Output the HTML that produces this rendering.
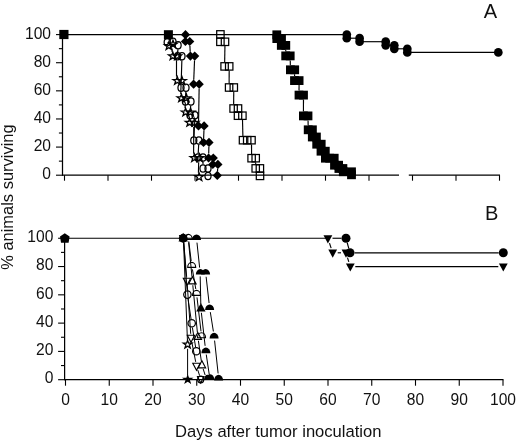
<!DOCTYPE html>
<html><head><meta charset="utf-8"><title>Survival</title>
<style>
html,body{margin:0;padding:0;background:#fff;}
svg{display:block;}
text{font-family:"Liberation Sans",Arial,sans-serif;fill:#111;}
.t{font-size:15.6px;}
.p{font-size:20px;}
.l{font-size:16.8px;}
</style></head><body>
<svg width="520" height="442" viewBox="0 0 520 442">
<rect width="520" height="442" fill="#fff"/>
<line x1="62.50" y1="34.10" x2="62.50" y2="175.70" stroke="#000" stroke-width="1.25"/>
<line x1="56.00" y1="175.20" x2="62.50" y2="175.20" stroke="#000" stroke-width="1.1"/>
<line x1="58.90" y1="161.14" x2="62.50" y2="161.14" stroke="#000" stroke-width="1.1"/>
<line x1="56.00" y1="147.08" x2="62.50" y2="147.08" stroke="#000" stroke-width="1.1"/>
<line x1="58.90" y1="133.02" x2="62.50" y2="133.02" stroke="#000" stroke-width="1.1"/>
<line x1="56.00" y1="118.96" x2="62.50" y2="118.96" stroke="#000" stroke-width="1.1"/>
<line x1="58.90" y1="104.90" x2="62.50" y2="104.90" stroke="#000" stroke-width="1.1"/>
<line x1="56.00" y1="90.84" x2="62.50" y2="90.84" stroke="#000" stroke-width="1.1"/>
<line x1="58.90" y1="76.78" x2="62.50" y2="76.78" stroke="#000" stroke-width="1.1"/>
<line x1="56.00" y1="62.72" x2="62.50" y2="62.72" stroke="#000" stroke-width="1.1"/>
<line x1="58.90" y1="48.66" x2="62.50" y2="48.66" stroke="#000" stroke-width="1.1"/>
<line x1="56.00" y1="34.60" x2="62.50" y2="34.60" stroke="#000" stroke-width="1.1"/>
<line x1="62.00" y1="175.20" x2="399.00" y2="175.20" stroke="#000" stroke-width="1.25"/>
<line x1="408.80" y1="175.20" x2="500.00" y2="175.20" stroke="#000" stroke-width="1.25"/>
<line x1="64.50" y1="175.20" x2="64.50" y2="180.70" stroke="#000" stroke-width="1.1"/>
<line x1="108.00" y1="175.20" x2="108.00" y2="180.70" stroke="#000" stroke-width="1.1"/>
<line x1="151.50" y1="175.20" x2="151.50" y2="180.70" stroke="#000" stroke-width="1.1"/>
<line x1="195.00" y1="175.20" x2="195.00" y2="180.70" stroke="#000" stroke-width="1.1"/>
<line x1="238.50" y1="175.20" x2="238.50" y2="180.70" stroke="#000" stroke-width="1.1"/>
<line x1="282.00" y1="175.20" x2="282.00" y2="180.70" stroke="#000" stroke-width="1.1"/>
<line x1="325.50" y1="175.20" x2="325.50" y2="180.70" stroke="#000" stroke-width="1.1"/>
<line x1="369.00" y1="175.20" x2="369.00" y2="180.70" stroke="#000" stroke-width="1.1"/>
<line x1="412.50" y1="175.20" x2="412.50" y2="180.70" stroke="#000" stroke-width="1.1"/>
<line x1="456.00" y1="175.20" x2="456.00" y2="180.70" stroke="#000" stroke-width="1.1"/>
<line x1="499.50" y1="175.20" x2="499.50" y2="180.70" stroke="#000" stroke-width="1.1"/>
<text x="51.00" y="179.20" text-anchor="end" class="t">0</text>
<text x="51.00" y="151.08" text-anchor="end" class="t">20</text>
<text x="51.00" y="122.96" text-anchor="end" class="t">40</text>
<text x="51.00" y="94.84" text-anchor="end" class="t">60</text>
<text x="51.00" y="66.72" text-anchor="end" class="t">80</text>
<text x="51.00" y="38.60" text-anchor="end" class="t">100</text>
<line x1="64.60" y1="237.75" x2="64.60" y2="380.20" stroke="#000" stroke-width="1.25"/>
<line x1="58.10" y1="379.70" x2="64.60" y2="379.70" stroke="#000" stroke-width="1.1"/>
<line x1="61.00" y1="365.56" x2="64.60" y2="365.56" stroke="#000" stroke-width="1.1"/>
<line x1="58.10" y1="351.41" x2="64.60" y2="351.41" stroke="#000" stroke-width="1.1"/>
<line x1="61.00" y1="337.26" x2="64.60" y2="337.26" stroke="#000" stroke-width="1.1"/>
<line x1="58.10" y1="323.12" x2="64.60" y2="323.12" stroke="#000" stroke-width="1.1"/>
<line x1="61.00" y1="308.98" x2="64.60" y2="308.98" stroke="#000" stroke-width="1.1"/>
<line x1="58.10" y1="294.83" x2="64.60" y2="294.83" stroke="#000" stroke-width="1.1"/>
<line x1="61.00" y1="280.69" x2="64.60" y2="280.69" stroke="#000" stroke-width="1.1"/>
<line x1="58.10" y1="266.54" x2="64.60" y2="266.54" stroke="#000" stroke-width="1.1"/>
<line x1="61.00" y1="252.39" x2="64.60" y2="252.39" stroke="#000" stroke-width="1.1"/>
<line x1="58.10" y1="238.25" x2="64.60" y2="238.25" stroke="#000" stroke-width="1.1"/>
<line x1="64.10" y1="379.70" x2="503.50" y2="379.70" stroke="#000" stroke-width="1.25"/>
<line x1="65.50" y1="379.70" x2="65.50" y2="385.70" stroke="#000" stroke-width="1.1"/>
<line x1="109.25" y1="379.70" x2="109.25" y2="385.70" stroke="#000" stroke-width="1.1"/>
<line x1="153.00" y1="379.70" x2="153.00" y2="385.70" stroke="#000" stroke-width="1.1"/>
<line x1="196.75" y1="379.70" x2="196.75" y2="385.70" stroke="#000" stroke-width="1.1"/>
<line x1="240.50" y1="379.70" x2="240.50" y2="385.70" stroke="#000" stroke-width="1.1"/>
<line x1="284.25" y1="379.70" x2="284.25" y2="385.70" stroke="#000" stroke-width="1.1"/>
<line x1="328.00" y1="379.70" x2="328.00" y2="385.70" stroke="#000" stroke-width="1.1"/>
<line x1="371.75" y1="379.70" x2="371.75" y2="385.70" stroke="#000" stroke-width="1.1"/>
<line x1="415.50" y1="379.70" x2="415.50" y2="385.70" stroke="#000" stroke-width="1.1"/>
<line x1="459.25" y1="379.70" x2="459.25" y2="385.70" stroke="#000" stroke-width="1.1"/>
<line x1="503.00" y1="379.70" x2="503.00" y2="385.70" stroke="#000" stroke-width="1.1"/>
<text x="53.40" y="383.40" text-anchor="end" class="t">0</text>
<text x="53.40" y="355.11" text-anchor="end" class="t">20</text>
<text x="53.40" y="326.82" text-anchor="end" class="t">40</text>
<text x="53.40" y="298.53" text-anchor="end" class="t">60</text>
<text x="53.40" y="270.24" text-anchor="end" class="t">80</text>
<text x="53.40" y="241.95" text-anchor="end" class="t">100</text>
<text x="65.50" y="405.00" text-anchor="middle" class="t">0</text>
<text x="109.25" y="405.00" text-anchor="middle" class="t">10</text>
<text x="153.00" y="405.00" text-anchor="middle" class="t">20</text>
<text x="196.75" y="405.00" text-anchor="middle" class="t">30</text>
<text x="240.50" y="405.00" text-anchor="middle" class="t">40</text>
<text x="284.25" y="405.00" text-anchor="middle" class="t">50</text>
<text x="328.00" y="405.00" text-anchor="middle" class="t">60</text>
<text x="371.75" y="405.00" text-anchor="middle" class="t">70</text>
<text x="415.50" y="405.00" text-anchor="middle" class="t">80</text>
<text x="459.25" y="405.00" text-anchor="middle" class="t">90</text>
<text x="503.00" y="405.00" text-anchor="middle" class="t">100</text>
<line x1="64.50" y1="34.60" x2="346.80" y2="34.60" stroke="#000" stroke-width="1.15"/>
<line x1="346.80" y1="38.20" x2="359.60" y2="38.20" stroke="#000" stroke-width="1.15"/>
<line x1="359.60" y1="41.70" x2="385.70" y2="41.70" stroke="#000" stroke-width="1.15"/>
<line x1="385.70" y1="45.30" x2="394.30" y2="45.30" stroke="#000" stroke-width="1.15"/>
<line x1="394.30" y1="48.80" x2="407.30" y2="48.80" stroke="#000" stroke-width="1.15"/>
<line x1="407.30" y1="52.40" x2="498.30" y2="52.40" stroke="#000" stroke-width="1.15"/>
<circle cx="346.80" cy="34.60" r="4.35" fill="#000"/>
<circle cx="346.80" cy="38.20" r="4.35" fill="#000"/>
<circle cx="359.60" cy="38.20" r="4.35" fill="#000"/>
<circle cx="359.60" cy="41.70" r="4.35" fill="#000"/>
<circle cx="385.70" cy="41.70" r="4.35" fill="#000"/>
<circle cx="385.70" cy="45.30" r="4.35" fill="#000"/>
<circle cx="394.30" cy="45.30" r="4.35" fill="#000"/>
<circle cx="394.30" cy="48.80" r="4.35" fill="#000"/>
<circle cx="407.30" cy="48.80" r="4.35" fill="#000"/>
<circle cx="407.30" cy="52.40" r="4.35" fill="#000"/>
<circle cx="498.30" cy="52.40" r="4.35" fill="#000"/>
<line x1="172.13" y1="48.60" x2="172.07" y2="52.00" stroke="#000" stroke-width="1.15"/>
<line x1="176.50" y1="60.40" x2="176.50" y2="76.60" stroke="#000" stroke-width="1.15"/>
<line x1="181.06" y1="85.00" x2="180.74" y2="94.00" stroke="#000" stroke-width="1.15"/>
<line x1="185.36" y1="102.39" x2="185.04" y2="108.11" stroke="#000" stroke-width="1.15"/>
<line x1="189.40" y1="116.48" x2="189.20" y2="118.52" stroke="#000" stroke-width="1.15"/>
<line x1="193.78" y1="126.90" x2="193.62" y2="153.80" stroke="#000" stroke-width="1.15"/>
<line x1="198.69" y1="162.20" x2="198.41" y2="172.80" stroke="#000" stroke-width="1.15"/>
<polygon points="168.80,41.86 169.86,44.66 173.08,44.72 170.51,46.51 171.45,49.35 168.80,47.66 166.15,49.35 167.09,46.51 164.52,44.72 167.74,44.66" fill="none" stroke="#000" stroke-width="1.3" stroke-linejoin="miter"/>
<polygon points="173.00,40.26 174.06,43.06 177.28,43.12 174.71,44.91 175.65,47.75 173.00,46.06 170.35,47.75 171.29,44.91 168.72,43.12 171.94,43.06" fill="none" stroke="#000" stroke-width="1.3" stroke-linejoin="miter"/>
<polygon points="172.80,52.06 173.86,54.86 177.08,54.92 174.51,56.71 175.45,59.55 172.80,57.86 170.15,59.55 171.09,56.71 168.52,54.92 171.74,54.86" fill="none" stroke="#000" stroke-width="1.3" stroke-linejoin="miter"/>
<polygon points="177.30,52.06 178.36,54.86 181.58,54.92 179.01,56.71 179.95,59.55 177.30,57.86 174.65,59.55 175.59,56.71 173.02,54.92 176.24,54.86" fill="none" stroke="#000" stroke-width="1.3" stroke-linejoin="miter"/>
<polygon points="177.30,76.66 178.36,79.46 181.58,79.52 179.01,81.31 179.95,84.15 177.30,82.46 174.65,84.15 175.59,81.31 173.02,79.52 176.24,79.46" fill="none" stroke="#000" stroke-width="1.3" stroke-linejoin="miter"/>
<polygon points="182.00,76.66 183.06,79.46 186.28,79.52 183.71,81.31 184.65,84.15 182.00,82.46 179.35,84.15 180.29,81.31 177.72,79.52 180.94,79.46" fill="none" stroke="#000" stroke-width="1.3" stroke-linejoin="miter"/>
<polygon points="181.40,94.06 182.46,96.86 185.68,96.92 183.11,98.71 184.05,101.55 181.40,99.86 178.75,101.55 179.69,98.71 177.12,96.92 180.34,96.86" fill="none" stroke="#000" stroke-width="1.3" stroke-linejoin="miter"/>
<polygon points="186.40,94.06 187.46,96.86 190.68,96.92 188.11,98.71 189.05,101.55 186.40,99.86 183.75,101.55 184.69,98.71 182.12,96.92 185.34,96.86" fill="none" stroke="#000" stroke-width="1.3" stroke-linejoin="miter"/>
<polygon points="185.60,108.16 186.66,110.96 189.88,111.02 187.31,112.81 188.25,115.65 185.60,113.96 182.95,115.65 183.89,112.81 181.32,111.02 184.54,110.96" fill="none" stroke="#000" stroke-width="1.3" stroke-linejoin="miter"/>
<polygon points="190.60,108.16 191.66,110.96 194.88,111.02 192.31,112.81 193.25,115.65 190.60,113.96 187.95,115.65 188.89,112.81 186.32,111.02 189.54,110.96" fill="none" stroke="#000" stroke-width="1.3" stroke-linejoin="miter"/>
<polygon points="189.60,118.56 190.66,121.36 193.88,121.42 191.31,123.21 192.25,126.05 189.60,124.36 186.95,126.05 187.89,123.21 185.32,121.42 188.54,121.36" fill="none" stroke="#000" stroke-width="1.3" stroke-linejoin="miter"/>
<polygon points="194.60,118.56 195.66,121.36 198.88,121.42 196.31,123.21 197.25,126.05 194.60,124.36 191.95,126.05 192.89,123.21 190.32,121.42 193.54,121.36" fill="none" stroke="#000" stroke-width="1.3" stroke-linejoin="miter"/>
<polygon points="194.40,153.86 195.46,156.66 198.68,156.72 196.11,158.51 197.05,161.35 194.40,159.66 191.75,161.35 192.69,158.51 190.12,156.72 193.34,156.66" fill="none" stroke="#000" stroke-width="1.3" stroke-linejoin="miter"/>
<polygon points="199.60,153.86 200.66,156.66 203.88,156.72 201.31,158.51 202.25,161.35 199.60,159.66 196.95,161.35 197.89,158.51 195.32,156.72 198.54,156.66" fill="none" stroke="#000" stroke-width="1.3" stroke-linejoin="miter"/>
<polygon points="199.10,172.86 200.16,175.66 203.38,175.72 200.81,177.51 201.75,180.35 199.10,178.66 196.45,180.35 197.39,177.51 194.82,175.72 198.04,175.66" fill="none" stroke="#000" stroke-width="1.3" stroke-linejoin="miter"/>
<line x1="177.92" y1="49.30" x2="177.78" y2="52.20" stroke="#000" stroke-width="1.15"/>
<line x1="181.87" y1="60.20" x2="181.13" y2="83.70" stroke="#000" stroke-width="1.15"/>
<line x1="185.83" y1="91.70" x2="185.57" y2="97.50" stroke="#000" stroke-width="1.15"/>
<line x1="190.71" y1="105.49" x2="190.29" y2="111.21" stroke="#000" stroke-width="1.15"/>
<line x1="194.81" y1="119.20" x2="193.99" y2="136.40" stroke="#000" stroke-width="1.15"/>
<line x1="198.69" y1="144.39" x2="198.21" y2="153.51" stroke="#000" stroke-width="1.15"/>
<line x1="203.00" y1="161.50" x2="203.00" y2="164.40" stroke="#000" stroke-width="1.15"/>
<ellipse cx="167.20" cy="42.20" rx="3.05" ry="3.65" fill="none" stroke="#000" stroke-width="1.25"/>
<ellipse cx="173.00" cy="41.80" rx="3.05" ry="3.65" fill="none" stroke="#000" stroke-width="1.25"/>
<ellipse cx="178.10" cy="45.30" rx="3.05" ry="3.65" fill="none" stroke="#000" stroke-width="1.25"/>
<ellipse cx="177.60" cy="56.20" rx="3.05" ry="3.65" fill="none" stroke="#000" stroke-width="1.25"/>
<ellipse cx="182.00" cy="56.20" rx="3.05" ry="3.65" fill="none" stroke="#000" stroke-width="1.25"/>
<ellipse cx="181.00" cy="87.70" rx="3.05" ry="3.65" fill="none" stroke="#000" stroke-width="1.25"/>
<ellipse cx="186.00" cy="87.70" rx="3.05" ry="3.65" fill="none" stroke="#000" stroke-width="1.25"/>
<ellipse cx="185.40" cy="101.50" rx="3.05" ry="3.65" fill="none" stroke="#000" stroke-width="1.25"/>
<ellipse cx="191.00" cy="101.50" rx="3.05" ry="3.65" fill="none" stroke="#000" stroke-width="1.25"/>
<ellipse cx="190.00" cy="115.20" rx="3.05" ry="3.65" fill="none" stroke="#000" stroke-width="1.25"/>
<ellipse cx="195.00" cy="115.20" rx="3.05" ry="3.65" fill="none" stroke="#000" stroke-width="1.25"/>
<ellipse cx="193.80" cy="140.40" rx="3.05" ry="3.65" fill="none" stroke="#000" stroke-width="1.25"/>
<ellipse cx="198.90" cy="140.40" rx="3.05" ry="3.65" fill="none" stroke="#000" stroke-width="1.25"/>
<ellipse cx="198.00" cy="157.50" rx="3.05" ry="3.65" fill="none" stroke="#000" stroke-width="1.25"/>
<ellipse cx="203.00" cy="157.50" rx="3.05" ry="3.65" fill="none" stroke="#000" stroke-width="1.25"/>
<ellipse cx="203.00" cy="168.40" rx="3.05" ry="3.65" fill="none" stroke="#000" stroke-width="1.25"/>
<ellipse cx="208.00" cy="168.40" rx="3.05" ry="3.65" fill="none" stroke="#000" stroke-width="1.25"/>
<ellipse cx="208.00" cy="176.00" rx="3.05" ry="3.65" fill="none" stroke="#000" stroke-width="1.25"/>
<line x1="189.91" y1="45.89" x2="190.19" y2="51.71" stroke="#000" stroke-width="1.15"/>
<line x1="194.53" y1="60.50" x2="193.77" y2="79.80" stroke="#000" stroke-width="1.15"/>
<line x1="199.13" y1="88.60" x2="198.57" y2="121.50" stroke="#000" stroke-width="1.15"/>
<line x1="203.94" y1="130.30" x2="203.66" y2="138.00" stroke="#000" stroke-width="1.15"/>
<line x1="208.89" y1="146.80" x2="208.71" y2="153.60" stroke="#000" stroke-width="1.15"/>
<line x1="217.66" y1="168.79" x2="217.54" y2="171.01" stroke="#000" stroke-width="1.15"/>
<path d="M185.50,30.10L190.10,34.70L185.50,39.30L180.90,34.70Z" fill="#000"/>
<path d="M185.40,36.90L190.00,41.50L185.40,46.10L180.80,41.50Z" fill="#000"/>
<path d="M189.70,36.90L194.30,41.50L189.70,46.10L185.10,41.50Z" fill="#000"/>
<path d="M190.40,51.50L195.00,56.10L190.40,60.70L185.80,56.10Z" fill="#000"/>
<path d="M194.70,51.50L199.30,56.10L194.70,60.70L190.10,56.10Z" fill="#000"/>
<path d="M193.60,79.60L198.20,84.20L193.60,88.80L189.00,84.20Z" fill="#000"/>
<path d="M199.20,79.60L203.80,84.20L199.20,88.80L194.60,84.20Z" fill="#000"/>
<path d="M198.50,121.30L203.10,125.90L198.50,130.50L193.90,125.90Z" fill="#000"/>
<path d="M204.10,121.30L208.70,125.90L204.10,130.50L199.50,125.90Z" fill="#000"/>
<path d="M203.50,137.80L208.10,142.40L203.50,147.00L198.90,142.40Z" fill="#000"/>
<path d="M209.00,137.80L213.60,142.40L209.00,147.00L204.40,142.40Z" fill="#000"/>
<path d="M208.60,153.40L213.20,158.00L208.60,162.60L204.00,158.00Z" fill="#000"/>
<path d="M213.30,153.40L217.90,158.00L213.30,162.60L208.70,158.00Z" fill="#000"/>
<path d="M212.80,159.80L217.40,164.40L212.80,169.00L208.20,164.40Z" fill="#000"/>
<path d="M217.90,159.80L222.50,164.40L217.90,169.00L213.30,164.40Z" fill="#000"/>
<path d="M217.30,170.80L221.90,175.40L217.30,180.00L212.70,175.40Z" fill="#000"/>
<line x1="224.93" y1="46.10" x2="224.67" y2="62.10" stroke="#000" stroke-width="1.15"/>
<line x1="229.18" y1="70.70" x2="229.12" y2="83.20" stroke="#000" stroke-width="1.15"/>
<line x1="233.76" y1="91.80" x2="233.64" y2="104.20" stroke="#000" stroke-width="1.15"/>
<line x1="242.51" y1="120.00" x2="242.89" y2="135.90" stroke="#000" stroke-width="1.15"/>
<line x1="251.52" y1="144.50" x2="251.58" y2="153.90" stroke="#000" stroke-width="1.15"/>
<line x1="255.70" y1="162.50" x2="255.70" y2="164.10" stroke="#000" stroke-width="1.15"/>
<rect x="216.70" y="30.70" width="7.4" height="7.4" fill="none" stroke="#000" stroke-width="1.25"/>
<rect x="216.70" y="38.10" width="7.4" height="7.4" fill="none" stroke="#000" stroke-width="1.25"/>
<rect x="221.30" y="38.10" width="7.4" height="7.4" fill="none" stroke="#000" stroke-width="1.25"/>
<rect x="220.90" y="62.70" width="7.4" height="7.4" fill="none" stroke="#000" stroke-width="1.25"/>
<rect x="225.50" y="62.70" width="7.4" height="7.4" fill="none" stroke="#000" stroke-width="1.25"/>
<rect x="225.40" y="83.80" width="7.4" height="7.4" fill="none" stroke="#000" stroke-width="1.25"/>
<rect x="230.10" y="83.80" width="7.4" height="7.4" fill="none" stroke="#000" stroke-width="1.25"/>
<rect x="229.90" y="104.80" width="7.4" height="7.4" fill="none" stroke="#000" stroke-width="1.25"/>
<rect x="234.30" y="104.80" width="7.4" height="7.4" fill="none" stroke="#000" stroke-width="1.25"/>
<rect x="234.30" y="112.00" width="7.4" height="7.4" fill="none" stroke="#000" stroke-width="1.25"/>
<rect x="238.70" y="112.00" width="7.4" height="7.4" fill="none" stroke="#000" stroke-width="1.25"/>
<rect x="239.30" y="136.50" width="7.4" height="7.4" fill="none" stroke="#000" stroke-width="1.25"/>
<rect x="243.50" y="136.50" width="7.4" height="7.4" fill="none" stroke="#000" stroke-width="1.25"/>
<rect x="247.80" y="136.50" width="7.4" height="7.4" fill="none" stroke="#000" stroke-width="1.25"/>
<rect x="247.90" y="154.50" width="7.4" height="7.4" fill="none" stroke="#000" stroke-width="1.25"/>
<rect x="252.00" y="154.50" width="7.4" height="7.4" fill="none" stroke="#000" stroke-width="1.25"/>
<rect x="252.00" y="164.70" width="7.4" height="7.4" fill="none" stroke="#000" stroke-width="1.25"/>
<rect x="256.20" y="164.70" width="7.4" height="7.4" fill="none" stroke="#000" stroke-width="1.25"/>
<rect x="256.30" y="172.20" width="7.4" height="7.4" fill="none" stroke="#000" stroke-width="1.25"/>
<line x1="285.76" y1="49.90" x2="285.74" y2="51.40" stroke="#000" stroke-width="1.15"/>
<line x1="290.26" y1="60.40" x2="290.34" y2="65.30" stroke="#000" stroke-width="1.15"/>
<line x1="294.62" y1="74.30" x2="294.58" y2="76.10" stroke="#000" stroke-width="1.15"/>
<line x1="299.07" y1="85.10" x2="299.03" y2="90.60" stroke="#000" stroke-width="1.15"/>
<line x1="303.48" y1="99.60" x2="303.42" y2="111.40" stroke="#000" stroke-width="1.15"/>
<line x1="308.06" y1="120.40" x2="308.14" y2="125.30" stroke="#000" stroke-width="1.15"/>
<rect x="272.40" y="30.40" width="8.8" height="8.8" fill="#000"/>
<rect x="272.40" y="34.20" width="8.8" height="8.8" fill="#000"/>
<rect x="277.10" y="34.20" width="8.8" height="8.8" fill="#000"/>
<rect x="276.90" y="41.00" width="8.8" height="8.8" fill="#000"/>
<rect x="281.40" y="41.00" width="8.8" height="8.8" fill="#000"/>
<rect x="281.30" y="51.50" width="8.8" height="8.8" fill="#000"/>
<rect x="285.80" y="51.50" width="8.8" height="8.8" fill="#000"/>
<rect x="286.00" y="65.40" width="8.8" height="8.8" fill="#000"/>
<rect x="290.30" y="65.40" width="8.8" height="8.8" fill="#000"/>
<rect x="290.10" y="76.20" width="8.8" height="8.8" fill="#000"/>
<rect x="294.70" y="76.20" width="8.8" height="8.8" fill="#000"/>
<rect x="294.60" y="90.70" width="8.8" height="8.8" fill="#000"/>
<rect x="299.10" y="90.70" width="8.8" height="8.8" fill="#000"/>
<rect x="299.00" y="111.50" width="8.8" height="8.8" fill="#000"/>
<rect x="303.60" y="111.50" width="8.8" height="8.8" fill="#000"/>
<rect x="303.80" y="125.40" width="8.8" height="8.8" fill="#000"/>
<rect x="308.00" y="125.40" width="8.8" height="8.8" fill="#000"/>
<rect x="307.90" y="132.60" width="8.8" height="8.8" fill="#000"/>
<rect x="312.00" y="132.60" width="8.8" height="8.8" fill="#000"/>
<rect x="312.30" y="139.80" width="8.8" height="8.8" fill="#000"/>
<rect x="316.80" y="139.80" width="8.8" height="8.8" fill="#000"/>
<rect x="316.60" y="146.80" width="8.8" height="8.8" fill="#000"/>
<rect x="320.90" y="146.80" width="8.8" height="8.8" fill="#000"/>
<rect x="321.00" y="153.80" width="8.8" height="8.8" fill="#000"/>
<rect x="325.30" y="153.80" width="8.8" height="8.8" fill="#000"/>
<rect x="329.80" y="153.80" width="8.8" height="8.8" fill="#000"/>
<rect x="330.10" y="160.80" width="8.8" height="8.8" fill="#000"/>
<rect x="334.20" y="160.80" width="8.8" height="8.8" fill="#000"/>
<rect x="334.50" y="164.10" width="8.8" height="8.8" fill="#000"/>
<rect x="338.50" y="164.10" width="8.8" height="8.8" fill="#000"/>
<rect x="338.90" y="167.40" width="8.8" height="8.8" fill="#000"/>
<rect x="347.10" y="167.40" width="8.8" height="8.8" fill="#000"/>
<rect x="347.10" y="170.40" width="8.8" height="8.8" fill="#000"/>
<rect x="59.30" y="29.90" width="9.2" height="9.2" fill="#000"/>
<rect x="163.90" y="30.20" width="9" height="9" fill="#000"/>
<line x1="65.50" y1="238.25" x2="327.90" y2="238.25" stroke="#000" stroke-width="1.15"/>
<line x1="329.48" y1="243.14" x2="331.12" y2="248.06" stroke="#000" stroke-width="1.15"/>
<line x1="337.70" y1="252.80" x2="341.00" y2="252.80" stroke="#000" stroke-width="1.15"/>
<line x1="347.49" y1="257.57" x2="348.81" y2="261.83" stroke="#000" stroke-width="1.15"/>
<line x1="355.30" y1="266.60" x2="498.30" y2="266.60" stroke="#000" stroke-width="1.15"/>
<path d="M323.50,235.20L332.30,235.20L327.90,243.40Z" fill="#000"/>
<path d="M328.30,249.60L337.10,249.60L332.70,257.80Z" fill="#000"/>
<path d="M341.60,249.60L350.40,249.60L346.00,257.80Z" fill="#000"/>
<path d="M345.90,263.40L354.70,263.40L350.30,271.60Z" fill="#000"/>
<path d="M498.90,263.40L507.70,263.40L503.30,271.60Z" fill="#000"/>
<line x1="347.22" y1="242.73" x2="348.78" y2="248.37" stroke="#000" stroke-width="1.15"/>
<line x1="354.60" y1="252.80" x2="498.70" y2="252.80" stroke="#000" stroke-width="1.15"/>
<circle cx="346.00" cy="238.30" r="4.5" fill="#000"/>
<circle cx="350.00" cy="252.80" r="4.5" fill="#000"/>
<circle cx="503.30" cy="252.80" r="4.5" fill="#000"/>
<line x1="332.50" y1="238.25" x2="341.40" y2="238.25" stroke="#000" stroke-width="1.15"/>
<line x1="183.57" y1="242.55" x2="187.43" y2="340.20" stroke="#000" stroke-width="1.0"/>
<line x1="187.60" y1="348.80" x2="187.60" y2="375.50" stroke="#000" stroke-width="1.0"/>
<polygon points="187.60,340.36 188.66,343.16 191.88,343.22 189.31,345.01 190.25,347.85 187.60,346.16 184.95,347.85 185.89,345.01 183.32,343.22 186.54,343.16" fill="none" stroke="#000" stroke-width="1.3" stroke-linejoin="miter"/>
<polygon points="187.70,375.91 188.58,378.38 191.41,378.39 189.13,379.93 189.99,382.40 187.70,380.88 185.41,382.40 186.27,379.93 183.99,378.39 186.82,378.38" fill="#000" stroke="#000" stroke-width="1.3" stroke-linejoin="miter"/>
<line x1="188.02" y1="298.75" x2="191.08" y2="319.15" stroke="#000" stroke-width="1.0"/>
<line x1="192.38" y1="327.44" x2="195.62" y2="347.16" stroke="#000" stroke-width="1.0"/>
<ellipse cx="187.40" cy="294.60" rx="3.7" ry="3.7" fill="none" stroke="#000" stroke-width="1.25"/>
<ellipse cx="191.70" cy="323.30" rx="3.7" ry="3.7" fill="none" stroke="#000" stroke-width="1.25"/>
<ellipse cx="196.30" cy="351.30" rx="3.7" ry="3.7" fill="none" stroke="#000" stroke-width="1.25"/>
<line x1="183.70" y1="242.44" x2="187.10" y2="290.41" stroke="#000" stroke-width="1.0"/>
<ellipse cx="200.70" cy="379.50" rx="3.0" ry="3.4" fill="none" stroke="#000" stroke-width="1.25"/>
<path d="M197.50,376.50L203.90,376.50L200.70,382.90Z" fill="none" stroke="#000" stroke-width="1.15"/>
<line x1="183.75" y1="242.44" x2="186.65" y2="276.81" stroke="#000" stroke-width="1.0"/>
<line x1="187.29" y1="285.19" x2="190.71" y2="333.81" stroke="#000" stroke-width="1.0"/>
<line x1="191.81" y1="342.12" x2="195.69" y2="361.88" stroke="#000" stroke-width="1.0"/>
<line x1="197.79" y1="370.00" x2="199.61" y2="375.60" stroke="#000" stroke-width="1.0"/>
<path d="M183.30,278.20L190.70,278.20L187.00,285.20Z" fill="none" stroke="#000" stroke-width="1.15"/>
<path d="M187.30,335.20L194.70,335.20L191.00,342.20Z" fill="none" stroke="#000" stroke-width="1.15"/>
<path d="M192.80,363.20L200.20,363.20L196.50,370.20Z" fill="none" stroke="#000" stroke-width="1.15"/>
<line x1="188.61" y1="242.43" x2="191.99" y2="276.82" stroke="#000" stroke-width="1.0"/>
<line x1="192.81" y1="285.18" x2="197.39" y2="332.42" stroke="#000" stroke-width="1.0"/>
<line x1="198.40" y1="340.76" x2="201.30" y2="360.84" stroke="#000" stroke-width="1.0"/>
<line x1="203.19" y1="369.00" x2="205.11" y2="375.00" stroke="#000" stroke-width="1.0"/>
<path d="M188.70,283.80L196.10,283.80L192.40,276.80Z" fill="none" stroke="#000" stroke-width="1.15"/>
<path d="M194.10,339.40L201.50,339.40L197.80,332.40Z" fill="none" stroke="#000" stroke-width="1.15"/>
<path d="M198.20,367.80L205.60,367.80L201.90,360.80Z" fill="none" stroke="#000" stroke-width="1.15"/>
<line x1="188.81" y1="241.37" x2="191.19" y2="261.03" stroke="#000" stroke-width="1.0"/>
<line x1="192.41" y1="269.34" x2="195.79" y2="289.06" stroke="#000" stroke-width="1.0"/>
<line x1="196.99" y1="297.37" x2="201.01" y2="331.33" stroke="#000" stroke-width="1.0"/>
<path d="M184.30,239.40A4.0,5.0 0 0 1 192.30,239.40Z" fill="none" stroke="#000" stroke-width="1.15"/>
<path d="M187.70,267.40A4.0,5.0 0 0 1 195.70,267.40Z" fill="none" stroke="#000" stroke-width="1.15"/>
<path d="M192.50,295.40A4.0,5.0 0 0 1 200.50,295.40Z" fill="none" stroke="#000" stroke-width="1.15"/>
<path d="M197.50,337.70A4.0,5.0 0 0 1 205.50,337.70Z" fill="none" stroke="#000" stroke-width="1.15"/>
<line x1="196.97" y1="242.63" x2="199.63" y2="267.62" stroke="#000" stroke-width="1.0"/>
<line x1="200.20" y1="276.40" x2="200.80" y2="304.00" stroke="#000" stroke-width="1.0"/>
<line x1="201.39" y1="312.77" x2="205.11" y2="345.83" stroke="#000" stroke-width="1.0"/>
<line x1="206.25" y1="354.55" x2="209.35" y2="375.15" stroke="#000" stroke-width="1.0"/>
<path d="M195.80,274.60A4.5,5.6 0 0 1 204.80,274.60Z" fill="#000"/>
<path d="M196.20,311.60L205.60,311.60L200.90,303.00Z" fill="#000"/>
<path d="M201.40,353.20A4.5,5.6 0 0 1 210.40,353.20Z" fill="#000"/>
<path d="M204.00,379.80A3.6,5.0 0 0 1 211.20,379.80Z" fill="#000"/>
<path d="M206.60,379.60A3.8,5.4 0 0 1 214.20,379.60Z" fill="#000"/>
<line x1="206.12" y1="276.77" x2="209.08" y2="303.03" stroke="#000" stroke-width="1.0"/>
<line x1="210.32" y1="312.14" x2="213.38" y2="331.46" stroke="#000" stroke-width="1.0"/>
<line x1="214.59" y1="340.57" x2="218.11" y2="373.43" stroke="#000" stroke-width="1.0"/>
<path d="M201.10,274.60A4.5,5.6 0 0 1 210.10,274.60Z" fill="#000"/>
<path d="M205.10,310.00A4.5,5.6 0 0 1 214.10,310.00Z" fill="#000"/>
<path d="M209.60,338.40A4.5,5.6 0 0 1 218.60,338.40Z" fill="#000"/>
<path d="M214.10,380.40A4.5,5.6 0 0 1 223.10,380.40Z" fill="#000"/>
<path d="M192.00,240.00A4.5,5.6 0 0 1 201.00,240.00Z" fill="#000"/>
<circle cx="183.20" cy="238.25" r="4.4" fill="#000"/>
<path d="M178.80,235.05L187.60,235.05L183.20,243.25Z" fill="#000"/>
<path d="M178.50,241.45L187.90,241.45L183.20,232.85Z" fill="#000"/>
<path d="M64.8,233.2L69.6,236.6L68.6,242.8L61,242.8L60,236.6Z" fill="#000"/>
<text x="483.8" y="17.8" class="p" textLength="13.4" lengthAdjust="spacingAndGlyphs">A</text>
<text x="491.8" y="219.6" class="p" textLength="13.4" lengthAdjust="spacingAndGlyphs" text-anchor="middle">B</text>
<text x="175" y="436.8" class="l" textLength="206.5" lengthAdjust="spacingAndGlyphs">Days after tumor inoculation</text>
<text transform="translate(12.9,269.8) rotate(-90)" class="l" textLength="145.4" lengthAdjust="spacingAndGlyphs">% animals surviving</text>
</svg>
</body></html>
